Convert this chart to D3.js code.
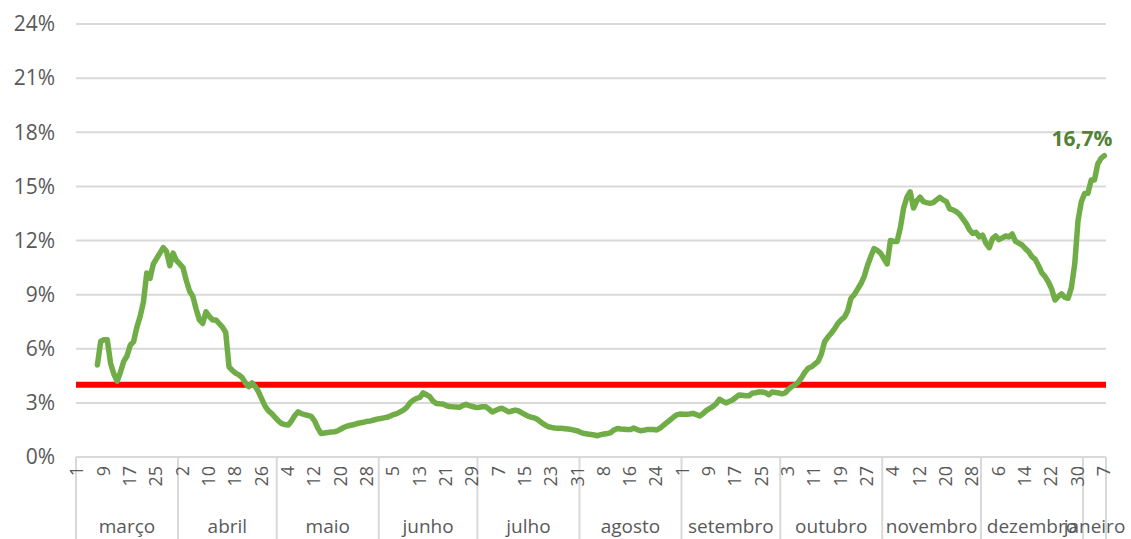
<!DOCTYPE html>
<html>
<head>
<meta charset="utf-8">
<script src="https://cdn.jsdelivr.net/npm/d3@7"></script>
<style>
  body { margin: 0; background: #fff; }
  text { font-family: "Open Sans", sans-serif; }
</style>
</head>
<body>
<div id="chart"></div>
<script>
// months on the category axis (March .. January 7)
var months = ['março', 'abril', 'maio', 'junho', 'julho', 'agosto', 'setembro',
  'outubro', 'novembro', 'dezembro', 'janeiro'];
var monthDays = [31, 30, 31, 30, 31, 31, 30, 31, 30, 31, 7];
var yTicks = [0, 3, 6, 9, 12, 15, 18, 21, 24];
var threshold = 4;

// daily rate in %, one value per day from 1 March (null = no data yet)
var marchRate = [null, null, null, null, null, null, 5.1, 6.4, 6.5, 6.5, 5.2, 4.6, 4.2, 4.7, 5.3, 5.6,
  6.2, 6.4, 7.2, 7.8, 8.6, 10.2, 9.9, 10.7, 11.0, 11.3, 11.6, 11.4, 10.6, 11.3, 10.9];
var aprilRate = [10.7, 10.5, 9.8, 9.2, 8.9, 8.2, 7.6, 7.4, 8.05, 7.8, 7.6, 7.6, 7.4, 7.2, 6.9,
  5.0, 4.8, 4.65, 4.55, 4.4, 4.1, 3.9, 4.1, 3.9, 3.6, 3.2, 2.8, 2.55, 2.4, 2.2];
var mayRate = [2.0, 1.85, 1.8, 1.77, 2.0, 2.3, 2.5, 2.4, 2.35, 2.3, 2.25, 2.0, 1.6, 1.3, 1.33, 1.36,
  1.38, 1.4, 1.45, 1.55, 1.65, 1.72, 1.76, 1.8, 1.86, 1.9, 1.93, 1.98, 2.0, 2.05, 2.1];
var juneRate = [2.13, 2.17, 2.2, 2.27, 2.35, 2.4, 2.5, 2.6, 2.75, 3.0, 3.15, 3.25, 3.3, 3.55, 3.45,
  3.35, 3.1, 2.97, 2.95, 2.94, 2.85, 2.8, 2.78, 2.77, 2.75, 2.85, 2.92, 2.85, 2.8, 2.75];
var julyRate = [2.76, 2.78, 2.79, 2.65, 2.5, 2.58, 2.66, 2.7, 2.6, 2.5, 2.55, 2.6, 2.55, 2.45, 2.35,
  2.25, 2.2, 2.15, 2.05, 1.9, 1.78, 1.68, 1.64, 1.61, 1.6, 1.59, 1.57, 1.55, 1.53, 1.48, 1.44];
var augustRate = [1.35, 1.3, 1.27, 1.25, 1.22, 1.18, 1.24, 1.27, 1.3, 1.35, 1.5, 1.58, 1.55, 1.54,
  1.53, 1.52, 1.6, 1.52, 1.46, 1.48, 1.52, 1.53, 1.52, 1.5, 1.6, 1.75, 1.9, 2.05, 2.2, 2.33, 2.38];
var septemberRate = [2.37, 2.37, 2.38, 2.42, 2.35, 2.27, 2.4, 2.57, 2.68, 2.79, 2.95, 3.2, 3.1, 3.0,
  3.08, 3.16, 3.3, 3.44, 3.42, 3.4, 3.4, 3.53, 3.56, 3.6, 3.6, 3.57, 3.45, 3.6, 3.58, 3.55];
var octoberRate = [3.5, 3.55, 3.75, 3.9, 4.0, 4.15, 4.4, 4.7, 4.92, 5.0, 5.15, 5.3, 5.7, 6.4, 6.65,
  6.86, 7.1, 7.4, 7.6, 7.75, 8.1, 8.8, 9.0, 9.3, 9.6, 10.0, 10.6, 11.1, 11.55, 11.45, 11.3];
var novemberRate = [11.0, 10.7, 12.0, 11.95, 11.94, 12.7, 13.8, 14.4, 14.7, 13.8, 14.2, 14.4, 14.15,
  14.1, 14.06, 14.1, 14.25, 14.39, 14.25, 14.15, 13.75, 13.7, 13.6, 13.45, 13.2, 12.95, 12.6, 12.4,
  12.45, 12.2];
var decemberRate = [12.3, 11.85, 11.6, 12.1, 12.25, 12.05, 12.15, 12.25, 12.2, 12.36, 11.95, 11.85,
  11.75, 11.55, 11.38, 11.1, 10.95, 10.6, 10.2, 10.0, 9.7, 9.3, 8.7, 8.9, 9.04, 8.85, 8.8, 9.4,
  10.7, 13.1, 14.15];
var januaryRate = [14.6, 14.62, 15.35, 15.36, 16.25, 16.55, 16.7];

var rate = [].concat(marchRate, aprilRate, mayRate, juneRate, julyRate, augustRate,
  septemberRate, octoberRate, novemberRate, decemberRate, januaryRate);

// one category per day
var days = [];
months.forEach(function(m, mi) {
  for (var d = 1; d <= monthDays[mi]; d++) days.push({ month: mi, day: d });
});

var width = 1131, height = 539;
var plotLeft = 76, plotRight = 1106, plotTop = 24, plotBottom = 457;
var grey = '#595959', gridColor = '#D9D9D9';

var svg = d3.select('#chart').append('svg')
  .attr('width', width)
  .attr('height', height);

var x = d3.scaleBand()
  .domain(d3.range(days.length))
  .range([plotLeft, plotRight])
  .padding(0);

var y = d3.scaleLinear()
  .domain([0, 24])
  .range([plotBottom, plotTop]);

// horizontal gridlines
svg.append('g').selectAll('line')
  .data(yTicks)
  .enter().append('line')
  .attr('x1', plotLeft).attr('x2', plotRight)
  .attr('y1', function(d) { return y(d); })
  .attr('y2', function(d) { return y(d); })
  .attr('stroke', gridColor)
  .attr('stroke-width', 2);

// y labels
svg.append('g').selectAll('text')
  .data(yTicks)
  .enter().append('text')
  .attr('x', 55)
  .attr('y', function(d) { return y(d); })
  .attr('dy', '0.35em')
  .attr('text-anchor', 'end')
  .attr('fill', grey)
  .style('font-size', '21px')
  .text(function(d) { return d + '%'; });

// month separators
var monthStart = [];
var acc = 0;
monthDays.forEach(function(n) { monthStart.push(acc); acc += n; });

var sepX = monthStart.map(function(s) { return x(s); }).concat([plotRight]);
svg.append('g').selectAll('line')
  .data(sepX)
  .enter().append('line')
  .attr('x1', function(d) { return d; })
  .attr('x2', function(d) { return d; })
  .attr('y1', plotBottom).attr('y2', height)
  .attr('stroke', gridColor)
  .attr('stroke-width', 2);

// day tick labels every 8 days, rotated
svg.append('g').selectAll('text')
  .data(days.map(function(d, i) { return { d: d, i: i }; }).filter(function(o) { return o.i % 8 === 0; }))
  .enter().append('text')
  .attr('transform', function(o) {
    return 'translate(' + (x(o.i) + 1) + ',' + (plotBottom + 9) + ') rotate(-90)';
  })
  .attr('dy', '0.35em')
  .attr('text-anchor', 'end')
  .attr('fill', grey)
  .style('font-size', '18px')
  .text(function(o) { return o.d.day; });

// month names
svg.append('g').selectAll('text')
  .data(months)
  .enter().append('text')
  .attr('x', function(m, i) {
    var s = monthStart[i], e = s + monthDays[i];
    return (x(s) + (e < days.length ? x(e) : plotRight)) / 2;
  })
  .attr('y', 533)
  .attr('text-anchor', 'middle')
  .attr('fill', grey)
  .style('font-size', '19px')
  .text(function(m) { return m; });

// threshold line
svg.append('line')
  .attr('x1', plotLeft).attr('x2', plotRight)
  .attr('y1', y(threshold)).attr('y2', y(threshold))
  .attr('stroke', '#FF0000')
  .attr('stroke-width', 6);

// rate line
var line = d3.line()
  .defined(function(d) { return d != null; })
  .x(function(d, i) { return x(i) + x.bandwidth() / 2; })
  .y(function(d) { return y(d); });

svg.append('path')
  .datum(rate)
  .attr('d', line)
  .attr('fill', 'none')
  .attr('stroke', '#70AD47')
  .attr('stroke-width', 5.5)
  .attr('stroke-linejoin', 'round')
  .attr('stroke-linecap', 'round');

// last value label
var last = rate.length - 1;
var pt = d3.formatLocale({ decimal: ',', thousands: '.', grouping: [3], currency: ['', ''] }).format('.1f');
svg.append('text')
  .attr('x', x(last) + x.bandwidth() / 2 + 8)
  .attr('y', y(rate[last]) - 10)
  .attr('text-anchor', 'end')
  .attr('fill', '#548235')
  .style('font-size', '21px')
  .style('font-weight', 'bold')
  .text(pt(rate[last]) + '%');
</script>
</body>
</html>
